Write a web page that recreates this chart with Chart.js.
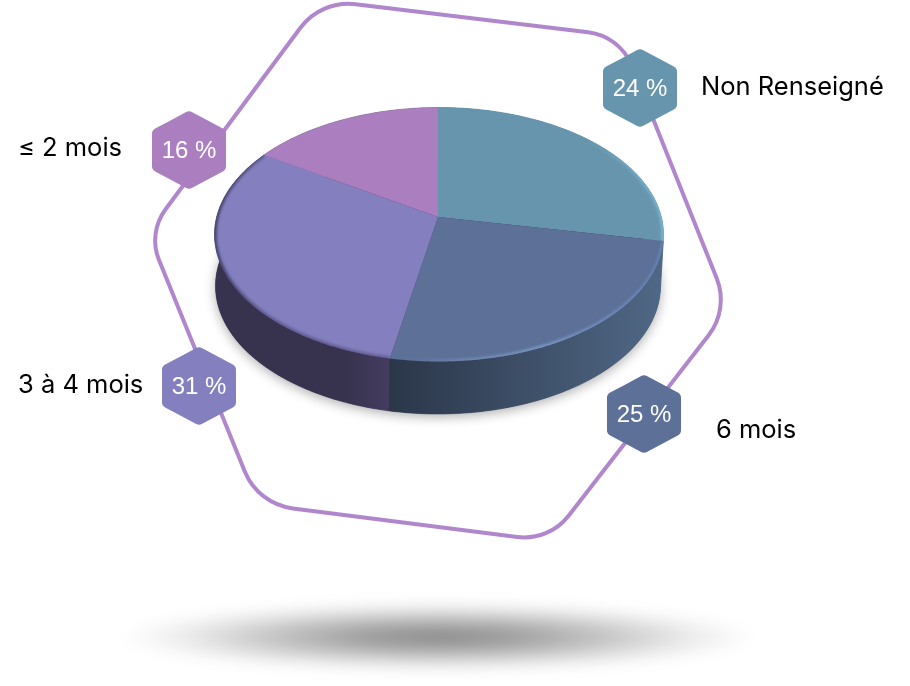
<!DOCTYPE html>
<html lang="fr">
<head>
<meta charset="utf-8">
<title>Répartition</title>
<script src="https://cdn.jsdelivr.net/npm/chart.js@4/dist/chart.umd.js"></script>
<style>
html,body{margin:0;padding:0;background:#fff}
canvas{display:block}
</style>
</head>
<body>
<canvas id="c" width="910" height="686" style="width:910px;height:686px"></canvas>
<script>
// Categories in clockwise order from the top of the pie
const categories = ["Non Renseigné", "6 mois", "3 à 4 mois", "≤ 2 mois"];
// Slice sizes as measured on the picture (the first slice is drawn larger than its 24 % label)
const sliceValues = [28, 25, 31, 16];
// Percentages printed on the badges
const printedPercents = [24, 25, 31, 16];
const sliceColors = ["#6795ae", "#5c7098", "#8480c0", "#ab7fbf"];

const TOP = {cx: 439, cy: 234.5, a: 224.5, b: 127};
const BASE = {cx: 438, cy: 286, a: 222.5, b: 128};
const APEX = {x: 438, y: 217};
const KX = (APEX.x - TOP.cx) / TOP.a, KY = (APEX.y - TOP.cy) / TOP.b;
const KL = Math.hypot(KX, KY);
const PS = KL ? (1 - Math.sqrt(1 - KL * KL)) / KL : 0;
const PX = KX / (KL || 1) * PS, PY = KY / (KL || 1) * PS;

function rim(t, e) {
  const zx = Math.cos(t), zy = Math.sin(t);
  const nx = zx + PX, ny = zy + PY;
  const dx = 1 + PX * zx + PY * zy, dy = PX * zy - PY * zx;
  const d = dx * dx + dy * dy;
  const wx = (nx * dx + ny * dy) / d, wy = (ny * dx - nx * dy) / d;
  return {x: e.cx + e.a * wx, y: e.cy + e.b * wy};
}
function rimPath(ctx, t0, t1, e, first) {
  const n = Math.max(4, Math.ceil(Math.abs(t1 - t0) * 60));
  for (let i = 0; i <= n; i++) {
    const p = rim(t0 + (t1 - t0) * i / n, e);
    if (i === 0 && first) ctx.moveTo(p.x, p.y); else ctx.lineTo(p.x, p.y);
  }
}
function rimStyle(ctx, i) {
  const g = ctx.createLinearGradient(215, 0, 663, 0);
  if (i === 0) {
    g.addColorStop(.82, "rgba(125,185,210,0)");
    g.addColorStop(1, "rgba(125,185,210,1)");
  } else if (i === 1) {
    g.addColorStop(.4, "rgba(110,135,180,0)");
    g.addColorStop(.55, "rgba(120,145,190,.75)");
    g.addColorStop(.72, "rgba(125,155,200,1)");
    g.addColorStop(1, "rgba(105,135,185,.9)");
  } else if (i === 2) {
    g.addColorStop(0, "rgba(60,58,95,1)");
    g.addColorStop(.1, "rgba(70,65,110,.7)");
    g.addColorStop(.4, "rgba(70,65,110,.55)");
    g.addColorStop(1, "rgba(70,65,110,.4)");
  } else {
    g.addColorStop(0, "rgba(0,0,0,0)");
    g.addColorStop(1, "rgba(0,0,0,0)");
  }
  return g;
}

class Arc3D extends Chart.ArcElement {
  static id = "arc3d";
  draw(ctx) {
    const t0 = this.startAngle, t1 = this.endAngle;
    ctx.save();
    ctx.beginPath();
    ctx.moveTo(APEX.x, APEX.y);
    rimPath(ctx, t0, t1, TOP, false);
    ctx.closePath();
    ctx.fillStyle = this.options.backgroundColor;
    ctx.fill();
    ctx.clip();
    const idx = sliceColors.indexOf(this.options.backgroundColor);
    ctx.beginPath();
    rimPath(ctx, t0, t1, TOP, true);
    ctx.filter = "blur(1.5px)";
    ctx.strokeStyle = rimStyle(ctx, idx);
    ctx.lineWidth = 4;
    ctx.stroke();
    ctx.restore();
  }
}
class Pie3DController extends Chart.PieController {
  static id = "pie3d";
  static defaults = {dataElementType: "arc3d"};
}
Chart.register(Arc3D, Pie3DController);

function hexPath(ctx, cx, cy, w, h, r) {
  const hw = w / 2, hh = h / 2, q = hh * 0.5;
  const v = [[cx, cy - hh], [cx + hw, cy - q], [cx + hw, cy + q], [cx, cy + hh], [cx - hw, cy + q], [cx - hw, cy - q]];
  ctx.beginPath();
  ctx.moveTo((v[5][0] + v[0][0]) / 2, (v[5][1] + v[0][1]) / 2);
  for (let i = 0; i < 6; i++) {
    const a = v[i], b = v[(i + 1) % 6];
    ctx.arcTo(a[0], a[1], b[0], b[1], r);
  }
  ctx.closePath();
}

const outlineCorners = [[321, 0], [620, 36], [729, 309], [549, 541], [258, 504], [148, 233]];
const outlineRadii = [60, 54, 58, 56, 60, 52];
const badgeCenters = [[640, 88], [644, 414], [199, 386], [189, 150]];
const labelPlaces = [[701, 87, "left"], [716, 430, "left"], [18, 385, "left"], [18, 148, "left"]];

const decor = {
  id: "decor",
  beforeDatasetsDraw(chart) {
    const ctx = chart.ctx;
    // floating shadow
    ctx.save();
    ctx.filter = "blur(7px)";
    ctx.translate(438, 637);
    ctx.scale(1, 35 / 318);
    const g = ctx.createRadialGradient(0, 0, 0, 0, 0, 318);
    g.addColorStop(0, "rgba(0,0,0,.46)");
    g.addColorStop(.25, "rgba(0,0,0,.38)");
    g.addColorStop(.55, "rgba(0,0,0,.22)");
    g.addColorStop(.8, "rgba(0,0,0,.08)");
    g.addColorStop(1, "rgba(0,0,0,0)");
    ctx.fillStyle = g;
    ctx.beginPath();
    ctx.arc(0, 0, 318, 0, Math.PI * 2);
    ctx.fill();
    ctx.restore();
    // outline
    ctx.save();
    ctx.beginPath();
    const n = outlineCorners.length;
    const s = outlineCorners[n - 1], f = outlineCorners[0];
    ctx.moveTo((s[0] + f[0]) / 2, (s[1] + f[1]) / 2);
    for (let i = 0; i < n; i++) {
      const a = outlineCorners[i], b = outlineCorners[(i + 1) % n];
      ctx.arcTo(a[0], a[1], b[0], b[1], outlineRadii[i]);
    }
    ctx.closePath();
    ctx.strokeStyle = "#b086cc";
    ctx.lineWidth = 4;
    ctx.stroke();
    ctx.restore();
    // drop shadow of the disc
    ctx.save();
    ctx.shadowColor = "rgba(0,0,0,.32)";
    ctx.shadowBlur = 12;
    ctx.shadowOffsetY = 3;
    ctx.fillStyle = "#3a3550";
    ctx.beginPath();
    ctx.ellipse(BASE.cx, BASE.cy, BASE.a, BASE.b, 0, 0, Math.PI * 2);
    ctx.fill();
    ctx.restore();
    // side wall
    const arcs = chart.getDatasetMeta(0).data;
    const wallStops = [
      ["#4a7a92", "#5a8aa2"],
      ["#2b3649", "#506886"],
      ["#37334e", "#453c60"],
      ["#6d5a80", "#6d5a80"]
    ];
    [0, 3, 2, 1].forEach(i => {
      const arc = arcs[i];
      const t0 = arc.startAngle, t1 = arc.endAngle;
      const a = rim(t0, TOP), b = rim(t1, TOP);
      const xs = [a.x, b.x];
      if (i === 2) xs.push(215);
      const lg = ctx.createLinearGradient(Math.min(...xs), 0, Math.max(...xs), 0);
      if (i === 2) { lg.addColorStop(0, wallStops[2][0]); lg.addColorStop(.75, wallStops[2][0]); lg.addColorStop(1, wallStops[2][1]); }
      else { lg.addColorStop(0, wallStops[i][0]); lg.addColorStop(1, wallStops[i][1]); }
      ctx.beginPath();
      rimPath(ctx, t0, t1, TOP, true);
      rimPath(ctx, t1, t0, BASE, false);
      ctx.closePath();
      ctx.fillStyle = lg;
      ctx.fill();
      ctx.strokeStyle = lg;
      ctx.lineWidth = .6;
      ctx.stroke();
    });
  },
  afterDatasetsDraw(chart) {
    const ctx = chart.ctx;
    categories.forEach((name, i) => {
      const c = badgeCenters[i];
      ctx.save();
      hexPath(ctx, c[0], c[1], 74, 79, 6);
      ctx.fillStyle = sliceColors[i];
      ctx.fill();
      ctx.fillStyle = "#fff";
      ctx.font = "24px 'Liberation Sans'";
      ctx.textAlign = "center";
      ctx.textBaseline = "middle";
      ctx.fillText(printedPercents[i] + " %", c[0], c[1] + 1);
      const l = labelPlaces[i];
      ctx.fillStyle = "#000";
      ctx.font = "25.5px Inter";
      ctx.textAlign = l[2];
      ctx.fillText(name, l[0], l[1]);
      ctx.restore();
    });
  }
};

new Chart(document.getElementById("c"), {
  type: "pie3d",
  data: {
    labels: categories,
    datasets: [{data: sliceValues, backgroundColor: sliceColors, borderWidth: 0}]
  },
  options: {
    responsive: false,
    animation: false,
    devicePixelRatio: 1,
    rotation: 0,
    plugins: {legend: {display: false}, tooltip: {enabled: false}}
  },
  plugins: [decor]
});
</script>
</body>
</html>
